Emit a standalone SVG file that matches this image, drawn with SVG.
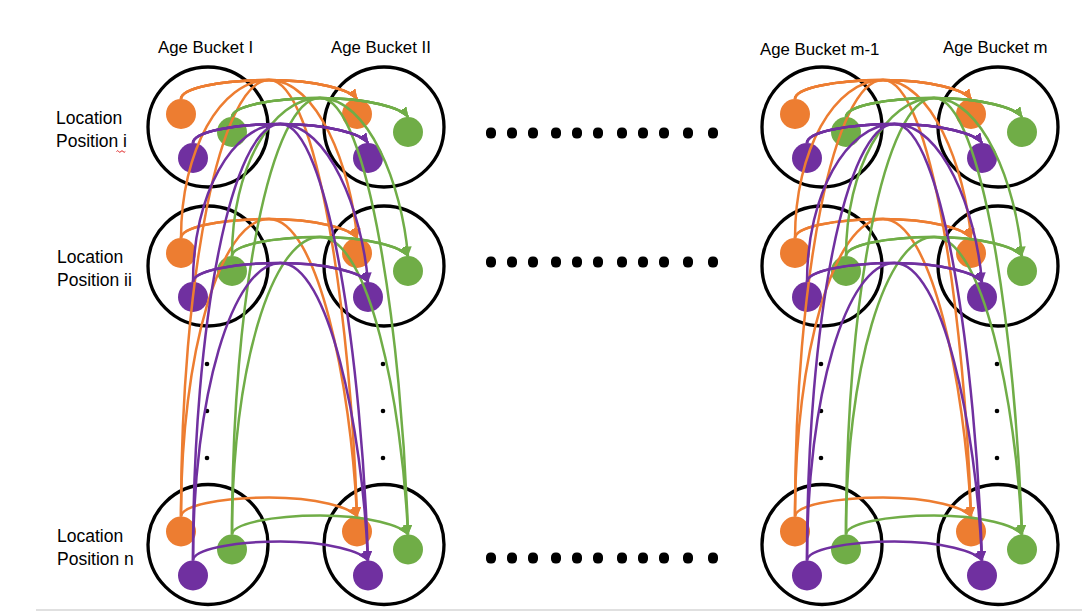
<svg xmlns="http://www.w3.org/2000/svg" width="1082" height="614" viewBox="0 0 1082 614">
<style>
.ring{fill:none;stroke:#000;stroke-width:3.3}
.o{fill:#ED7D31}.g{fill:#70AD47}.p{fill:#7030A0}
.co,.cg,.cp{fill:none;stroke-width:2.5}
.co{stroke:#ED7D31;marker-end:url(#ao)}
.cg{stroke:#70AD47;marker-end:url(#ag)}
.cp{stroke:#7030A0;marker-end:url(#ap)}
text{font-family:"Liberation Sans",Arial,sans-serif;font-size:16.8px;fill:#000}
text.loc{font-size:17.5px}
.dot{fill:#000}
</style>
<defs>
<marker id="ao" markerUnits="userSpaceOnUse" viewBox="0 0 10 9" markerWidth="10" markerHeight="9" refX="9.5" refY="4.5" orient="auto"><path d="M0,0 L10,4.5 L0,9 z" fill="#ED7D31"/></marker>
<marker id="ag" markerUnits="userSpaceOnUse" viewBox="0 0 10 9" markerWidth="10" markerHeight="9" refX="9.5" refY="4.5" orient="auto"><path d="M0,0 L10,4.5 L0,9 z" fill="#70AD47"/></marker>
<marker id="ap" markerUnits="userSpaceOnUse" viewBox="0 0 10 9" markerWidth="10" markerHeight="9" refX="9.5" refY="4.5" orient="auto"><path d="M0,0 L10,4.5 L0,9 z" fill="#7030A0"/></marker>
</defs>
<rect width="1082" height="614" fill="#fff"/>
<line x1="36" y1="610" x2="1082" y2="610" stroke="#d6d6d6" stroke-width="1.5"/>

<g id="labels">
<text x="158" y="53">Age Bucket I</text>
<text x="331" y="53">Age Bucket II</text>
<text x="760" y="55">Age Bucket m-1</text>
<text x="943" y="53">Age Bucket m</text>
<text class="loc" x="56" y="124">Location</text>
<text class="loc" x="56" y="147">Position i</text>
<text class="loc" x="57" y="263">Location</text>
<text class="loc" x="57" y="286">Position ii</text>
<text class="loc" x="57" y="542">Location</text>
<text class="loc" x="57" y="565">Position n</text>
<path d="M116.5,151.5 q1.1,-1.6 2.2,0 t2.2,0 t2.2,0 t2.2,0" fill="none" stroke="#e02020" stroke-width="1"/>
</g>

<g id="ellipsis-dots">
<g id="hdots-i" class="dot">
<rect x="486" y="127.5" width="10" height="11" rx="4.5"/><rect x="507" y="127.5" width="10" height="11" rx="4.5"/><rect x="528" y="127.5" width="10" height="11" rx="4.5"/><rect x="551" y="127.5" width="10" height="11" rx="4.5"/><rect x="572" y="127.5" width="10" height="11" rx="4.5"/><rect x="593" y="127.5" width="10" height="11" rx="4.5"/><rect x="617" y="127.5" width="10" height="11" rx="4.5"/><rect x="638" y="127.5" width="10" height="11" rx="4.5"/><rect x="659" y="127.5" width="10" height="11" rx="4.5"/><rect x="683" y="127.5" width="10" height="11" rx="4.5"/><rect x="708" y="127.5" width="10" height="11" rx="4.5"/>
</g>
<g id="hdots-ii" class="dot">
<rect x="486" y="256.5" width="10" height="11" rx="4.5"/><rect x="507" y="256.5" width="10" height="11" rx="4.5"/><rect x="528" y="256.5" width="10" height="11" rx="4.5"/><rect x="551" y="256.5" width="10" height="11" rx="4.5"/><rect x="572" y="256.5" width="10" height="11" rx="4.5"/><rect x="593" y="256.5" width="10" height="11" rx="4.5"/><rect x="617" y="256.5" width="10" height="11" rx="4.5"/><rect x="638" y="256.5" width="10" height="11" rx="4.5"/><rect x="659" y="256.5" width="10" height="11" rx="4.5"/><rect x="683" y="256.5" width="10" height="11" rx="4.5"/><rect x="708" y="256.5" width="10" height="11" rx="4.5"/>
</g>
<g id="hdots-n" class="dot">
<rect x="486" y="552.5" width="10" height="11" rx="4.5"/><rect x="507" y="552.5" width="10" height="11" rx="4.5"/><rect x="528" y="552.5" width="10" height="11" rx="4.5"/><rect x="551" y="552.5" width="10" height="11" rx="4.5"/><rect x="572" y="552.5" width="10" height="11" rx="4.5"/><rect x="593" y="552.5" width="10" height="11" rx="4.5"/><rect x="617" y="552.5" width="10" height="11" rx="4.5"/><rect x="638" y="552.5" width="10" height="11" rx="4.5"/><rect x="659" y="552.5" width="10" height="11" rx="4.5"/><rect x="683" y="552.5" width="10" height="11" rx="4.5"/><rect x="708" y="552.5" width="10" height="11" rx="4.5"/>
</g>
<g id="vdots" class="dot">
<circle cx="207" cy="364" r="2.3"/><circle cx="207" cy="411" r="2.3"/><circle cx="207" cy="458" r="2.3"/>
<circle cx="383" cy="364" r="2.3"/><circle cx="383" cy="411" r="2.3"/><circle cx="383" cy="458" r="2.3"/>
<circle cx="821" cy="364" r="2.3"/><circle cx="821" cy="411" r="2.3"/><circle cx="821" cy="458" r="2.3"/>
<circle cx="997" cy="364" r="2.3"/><circle cx="997" cy="411" r="2.3"/><circle cx="997" cy="458" r="2.3"/>
</g>
</g>

<g id="nodes-left">
<g id="bucketI-pos-i"><circle class="ring" cx="208" cy="127" r="60"/><circle id="I-i-o" class="o" cx="181" cy="114" r="15"/><circle id="I-i-g" class="g" cx="232" cy="132" r="15"/><circle id="I-i-p" class="p" cx="193" cy="158" r="15"/></g>
<g id="bucketII-pos-i"><circle class="ring" cx="384" cy="127" r="60"/><circle id="II-i-o" class="o" cx="357" cy="114" r="15"/><circle id="II-i-g" class="g" cx="408" cy="132" r="15"/><circle id="II-i-p" class="p" cx="368" cy="158" r="15"/></g>
<g id="bucketI-pos-ii"><circle class="ring" cx="208" cy="266" r="60"/><circle id="I-ii-o" class="o" cx="181" cy="253" r="15"/><circle id="I-ii-g" class="g" cx="232" cy="271" r="15"/><circle id="I-ii-p" class="p" cx="193" cy="297" r="15"/></g>
<g id="bucketII-pos-ii"><circle class="ring" cx="384" cy="266" r="60"/><circle id="II-ii-o" class="o" cx="357" cy="253" r="15"/><circle id="II-ii-g" class="g" cx="408" cy="271" r="15"/><circle id="II-ii-p" class="p" cx="368" cy="297" r="15"/></g>
<g id="bucketI-pos-n"><circle class="ring" cx="208" cy="544.5" r="60"/><circle id="I-n-o" class="o" cx="181" cy="531.5" r="15"/><circle id="I-n-g" class="g" cx="232" cy="549.5" r="15"/><circle id="I-n-p" class="p" cx="193" cy="575.5" r="15"/></g>
<g id="bucketII-pos-n"><circle class="ring" cx="384" cy="544.5" r="60"/><circle id="II-n-o" class="o" cx="357" cy="531.5" r="15"/><circle id="II-n-g" class="g" cx="408" cy="549.5" r="15"/><circle id="II-n-p" class="p" cx="368" cy="575.5" r="15"/></g>
</g>

<g id="nodes-right" transform="translate(614 0)">
<g id="bucketM1-pos-i"><circle class="ring" cx="208" cy="127" r="60"/><circle id="M1-i-o" class="o" cx="181" cy="114" r="15"/><circle id="M1-i-g" class="g" cx="232" cy="132" r="15"/><circle id="M1-i-p" class="p" cx="193" cy="158" r="15"/></g>
<g id="bucketM-pos-i"><circle class="ring" cx="384" cy="127" r="60"/><circle id="M-i-o" class="o" cx="357" cy="114" r="15"/><circle id="M-i-g" class="g" cx="408" cy="132" r="15"/><circle id="M-i-p" class="p" cx="368" cy="158" r="15"/></g>
<g id="bucketM1-pos-ii"><circle class="ring" cx="208" cy="266" r="60"/><circle id="M1-ii-o" class="o" cx="181" cy="253" r="15"/><circle id="M1-ii-g" class="g" cx="232" cy="271" r="15"/><circle id="M1-ii-p" class="p" cx="193" cy="297" r="15"/></g>
<g id="bucketM-pos-ii"><circle class="ring" cx="384" cy="266" r="60"/><circle id="M-ii-o" class="o" cx="357" cy="253" r="15"/><circle id="M-ii-g" class="g" cx="408" cy="271" r="15"/><circle id="M-ii-p" class="p" cx="368" cy="297" r="15"/></g>
<g id="bucketM1-pos-n"><circle class="ring" cx="208" cy="544.5" r="60"/><circle id="M1-n-o" class="o" cx="181" cy="531.5" r="15"/><circle id="M1-n-g" class="g" cx="232" cy="549.5" r="15"/><circle id="M1-n-p" class="p" cx="193" cy="575.5" r="15"/></g>
<g id="bucketM-pos-n"><circle class="ring" cx="384" cy="544.5" r="60"/><circle id="M-n-o" class="o" cx="357" cy="531.5" r="15"/><circle id="M-n-g" class="g" cx="408" cy="549.5" r="15"/><circle id="M-n-p" class="p" cx="368" cy="575.5" r="15"/></g>
</g>

<g id="connectors">
<g id="connectors-left">
<path class="co" d="M181,99 C181,88.5 220.4,80 269,80 C317.6,80 351,90.5 357,99"/>
<path class="co" d="M181,99 C181,88.5 220.4,80 269,80 C317.6,80 351,167.2 357,238"/>
<path class="co" d="M181,99 C181,88.5 220.4,80 269,80 C317.6,80 351,321 357,516.5"/>
<path class="co" d="M181,238 C181,150.8 220.4,80 269,80 C317.6,80 351,90.5 357,99"/>
<path class="co" d="M181,516.5 C181,275.5 220.4,80 269,80 C317.6,80 351,90.5 357,99"/>
<path class="co" d="M181,238 C181,227.5 220.4,219 269,219 C317.6,219 351,229.5 357,238"/>
<path class="co" d="M181,238 C181,227.5 220.4,219 269,219 C317.6,219 351,383.2 357,516.5"/>
<path class="co" d="M181,516.5 C181,352.3 220.4,219 269,219 C317.6,219 351,229.5 357,238"/>
<path class="co" d="M181,516.5 C181,506 220.4,497.5 269,497.5 C317.6,497.5 351,508 357,516.5"/>
<path class="cg" d="M232,117 C232,106.5 271.4,98 320,98 C368.6,98 402,108.5 408,117"/>
<path class="cg" d="M232,117 C232,106.5 271.4,98 320,98 C368.6,98 402,185.2 408,256"/>
<path class="cg" d="M232,117 C232,106.5 271.4,98 320,98 C368.6,98 402,339 408,534.5"/>
<path class="cg" d="M232,256 C232,168.8 271.4,98 320,98 C368.6,98 402,108.5 408,117"/>
<path class="cg" d="M232,534.5 C232,293.5 271.4,98 320,98 C368.6,98 402,108.5 408,117"/>
<path class="cg" d="M232,256 C232,245.5 271.4,237 320,237 C368.6,237 402,247.5 408,256"/>
<path class="cg" d="M232,256 C232,245.5 271.4,237 320,237 C368.6,237 402,401.2 408,534.5"/>
<path class="cg" d="M232,534.5 C232,370.3 271.4,237 320,237 C368.6,237 402,247.5 408,256"/>
<path class="cg" d="M232,534.5 C232,524 271.4,515.5 320,515.5 C368.6,515.5 402,526 408,534.5"/>
<path class="cp" d="M193,143 C193,132.5 232.2,124 280.5,124 C328.8,124 362,134.5 368,143"/>
<path class="cp" d="M193,143 C193,132.5 232.2,124 280.5,124 C328.8,124 362,211.2 368,282"/>
<path class="cp" d="M193,143 C193,132.5 232.2,124 280.5,124 C328.8,124 362,365 368,560.5"/>
<path class="cp" d="M193,282 C193,194.8 232.2,124 280.5,124 C328.8,124 362,134.5 368,143"/>
<path class="cp" d="M193,560.5 C193,319.5 232.2,124 280.5,124 C328.8,124 362,134.5 368,143"/>
<path class="cp" d="M193,282 C193,271.5 232.2,263 280.5,263 C328.8,263 362,273.5 368,282"/>
<path class="cp" d="M193,282 C193,271.5 232.2,263 280.5,263 C328.8,263 362,427.2 368,560.5"/>
<path class="cp" d="M193,560.5 C193,396.3 232.2,263 280.5,263 C328.8,263 362,273.5 368,282"/>
<path class="cp" d="M193,560.5 C193,550 232.2,541.5 280.5,541.5 C328.8,541.5 362,552 368,560.5"/>
</g>
<g id="connectors-right" transform="translate(614 0)">
<path class="co" d="M181,99 C181,88.5 220.4,80 269,80 C317.6,80 351,90.5 357,99"/>
<path class="co" d="M181,99 C181,88.5 220.4,80 269,80 C317.6,80 351,167.2 357,238"/>
<path class="co" d="M181,99 C181,88.5 220.4,80 269,80 C317.6,80 351,321 357,516.5"/>
<path class="co" d="M181,238 C181,150.8 220.4,80 269,80 C317.6,80 351,90.5 357,99"/>
<path class="co" d="M181,516.5 C181,275.5 220.4,80 269,80 C317.6,80 351,90.5 357,99"/>
<path class="co" d="M181,238 C181,227.5 220.4,219 269,219 C317.6,219 351,229.5 357,238"/>
<path class="co" d="M181,238 C181,227.5 220.4,219 269,219 C317.6,219 351,383.2 357,516.5"/>
<path class="co" d="M181,516.5 C181,352.3 220.4,219 269,219 C317.6,219 351,229.5 357,238"/>
<path class="co" d="M181,516.5 C181,506 220.4,497.5 269,497.5 C317.6,497.5 351,508 357,516.5"/>
<path class="cg" d="M232,117 C232,106.5 271.4,98 320,98 C368.6,98 402,108.5 408,117"/>
<path class="cg" d="M232,117 C232,106.5 271.4,98 320,98 C368.6,98 402,185.2 408,256"/>
<path class="cg" d="M232,117 C232,106.5 271.4,98 320,98 C368.6,98 402,339 408,534.5"/>
<path class="cg" d="M232,256 C232,168.8 271.4,98 320,98 C368.6,98 402,108.5 408,117"/>
<path class="cg" d="M232,534.5 C232,293.5 271.4,98 320,98 C368.6,98 402,108.5 408,117"/>
<path class="cg" d="M232,256 C232,245.5 271.4,237 320,237 C368.6,237 402,247.5 408,256"/>
<path class="cg" d="M232,256 C232,245.5 271.4,237 320,237 C368.6,237 402,401.2 408,534.5"/>
<path class="cg" d="M232,534.5 C232,370.3 271.4,237 320,237 C368.6,237 402,247.5 408,256"/>
<path class="cg" d="M232,534.5 C232,524 271.4,515.5 320,515.5 C368.6,515.5 402,526 408,534.5"/>
<path class="cp" d="M193,143 C193,132.5 232.2,124 280.5,124 C328.8,124 362,134.5 368,143"/>
<path class="cp" d="M193,143 C193,132.5 232.2,124 280.5,124 C328.8,124 362,211.2 368,282"/>
<path class="cp" d="M193,143 C193,132.5 232.2,124 280.5,124 C328.8,124 362,365 368,560.5"/>
<path class="cp" d="M193,282 C193,194.8 232.2,124 280.5,124 C328.8,124 362,134.5 368,143"/>
<path class="cp" d="M193,560.5 C193,319.5 232.2,124 280.5,124 C328.8,124 362,134.5 368,143"/>
<path class="cp" d="M193,282 C193,271.5 232.2,263 280.5,263 C328.8,263 362,273.5 368,282"/>
<path class="cp" d="M193,282 C193,271.5 232.2,263 280.5,263 C328.8,263 362,427.2 368,560.5"/>
<path class="cp" d="M193,560.5 C193,396.3 232.2,263 280.5,263 C328.8,263 362,273.5 368,282"/>
<path class="cp" d="M193,560.5 C193,550 232.2,541.5 280.5,541.5 C328.8,541.5 362,552 368,560.5"/>
</g>
</g>
</svg>
